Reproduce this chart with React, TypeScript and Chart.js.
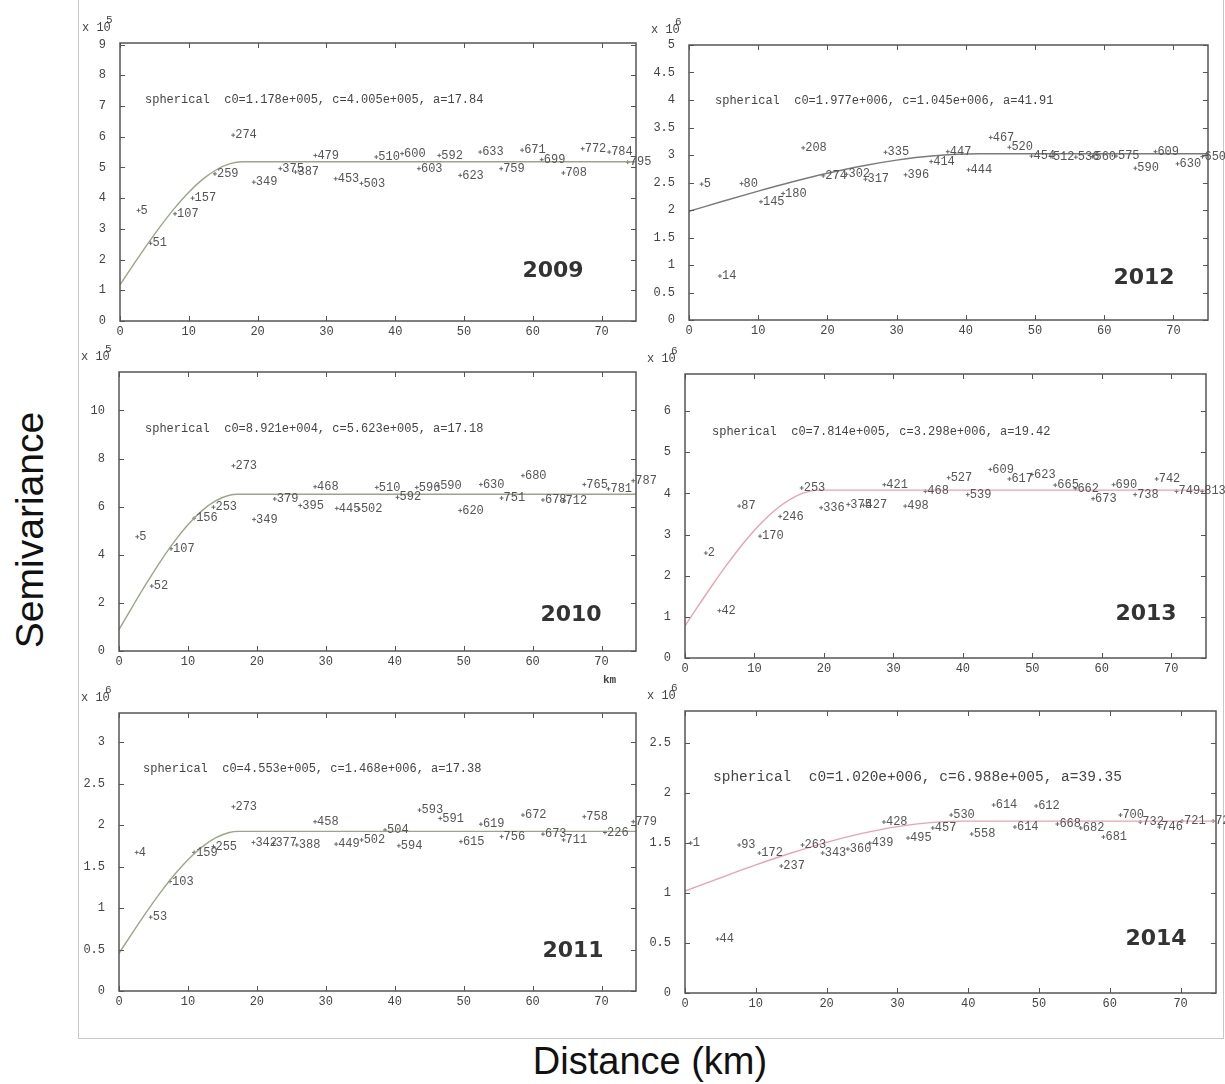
import React, { useEffect, useRef } from "react";
import { Chart, registerables } from "chart.js";

Chart.register(...registerables);

// ---------- data ----------
const distTicks = [0, 10, 20, 30, 40, 50, 60, 70];

const dist2009 = [2.7, 4.45, 8.0, 10.55, 13.8, 16.45, 19.45, 23.3, 25.5, 28.4, 31.35, 35.1, 37.25, 41.0, 43.45, 46.4, 49.45, 52.35, 55.4, 58.45, 61.3, 64.45, 67.25, 71.1, 73.8];
const gamma2009 = [3.6, 2.53, 3.49, 4.0, 4.79, 6.05, 4.52, 4.96, 4.85, 5.39, 4.63, 4.48, 5.34, 5.45, 4.96, 5.39, 4.74, 5.5, 4.96, 5.56, 5.25, 4.82, 5.61, 5.5, 5.17];
const pairs2009 = [5, 51, 107, 157, 259, 274, 349, 375, 387, 479, 453, 503, 510, 600, 603, 592, 623, 633, 759, 671, 699, 708, 772, 784, 795];
const modelX2009 = [0, 2, 4, 6, 8, 10, 12, 14, 16, 17.84, 75];
const modelY2009 = [1.178, 1.849, 2.502, 3.122, 3.691, 4.193, 4.61, 4.924, 5.121, 5.183, 5.183];
const yTicks2009 = [0, 1, 2, 3, 4, 5, 6, 7, 8, 9];

const dist2012 = [1.83, 4.47, 7.6, 10.4, 13.6, 16.5, 19.4, 22.75, 25.5, 28.4, 31.3, 35.0, 37.4, 40.4, 43.6, 46.3, 49.5, 52.3, 55.9, 58.3, 61.7, 64.5, 67.4, 70.6, 74.2];
const gamma2012 = [2.47, 0.8, 2.48, 2.15, 2.3, 3.13, 2.62, 2.65, 2.56, 3.05, 2.64, 2.88, 3.06, 2.73, 3.32, 3.14, 2.98, 2.97, 2.96, 2.97, 2.98, 2.76, 3.06, 2.84, 2.97];
const pairs2012 = [5, 14, 80, 145, 180, 208, 274, 302, 317, 335, 396, 414, 447, 444, 467, 520, 454, 512, 536, 560, 575, 590, 609, 630, 650];
const modelX2012 = [0, 5, 10, 15, 20, 25, 30, 35, 41.91, 75];
const modelY2012 = [1.977, 2.163, 2.344, 2.514, 2.668, 2.801, 2.907, 2.982, 3.022, 3.022];
const yTicks2012 = [0, 0.5, 1, 1.5, 2, 2.5, 3, 3.5, 4, 4.5, 5];

const dist2010 = [2.66, 4.75, 7.55, 10.9, 13.7, 16.6, 19.6, 22.6, 26.3, 28.45, 31.6, 34.8, 37.4, 40.4, 43.2, 46.3, 49.5, 52.5, 55.5, 58.6, 61.5, 64.5, 67.5, 71.0, 74.6];
const gamma2010 = [4.75, 2.7, 4.25, 5.52, 5.98, 7.7, 5.47, 6.32, 6.05, 6.83, 5.93, 5.9, 6.8, 6.39, 6.8, 6.87, 5.84, 6.92, 6.36, 7.29, 6.28, 6.25, 6.92, 6.74, 7.08];
const pairs2010 = [5, 52, 107, 156, 253, 273, 349, 379, 395, 468, 445, 502, 510, 592, 596, 590, 620, 630, 751, 680, 678, 712, 765, 781, 787];
const modelX2010 = [0, 2, 4, 6, 8, 10, 12, 14, 16, 17.18, 75];
const modelY2010 = [0.892, 1.869, 2.82, 3.718, 4.536, 5.247, 5.825, 6.244, 6.476, 6.515, 6.515];
const yTicks2010 = [0, 2, 4, 6, 8, 10];

const dist2013 = [3.0, 4.95, 7.8, 10.8, 13.7, 16.8, 19.6, 23.5, 25.7, 28.7, 31.7, 34.6, 37.95, 40.7, 43.95, 46.7, 49.95, 53.3, 56.2, 58.75, 61.7, 64.8, 67.9, 70.75, 74.45];
const gamma2013 = [2.55, 1.15, 3.69, 2.96, 3.44, 4.13, 3.65, 3.73, 3.71, 4.21, 3.69, 4.05, 4.38, 3.97, 4.58, 4.35, 4.46, 4.2, 4.11, 3.87, 4.21, 3.97, 4.35, 4.05, 4.05];
const pairs2013 = [2, 42, 87, 170, 246, 253, 336, 375, 427, 421, 498, 468, 527, 539, 609, 617, 623, 665, 662, 673, 690, 738, 742, 749, 813];
const modelX2013 = [0, 2, 4, 6, 8, 10, 12, 14, 16, 18, 19.42, 75];
const modelY2013 = [0.781, 1.289, 1.786, 2.261, 2.704, 3.103, 3.449, 3.73, 3.935, 4.053, 4.079, 4.079];
const yTicks2013 = [0, 1, 2, 3, 4, 5, 6];

const dist2011 = [2.57, 4.6, 7.4, 10.9, 13.7, 16.6, 19.5, 22.4, 25.8, 28.45, 31.5, 35.2, 38.6, 40.6, 43.6, 46.6, 49.6, 52.5, 55.5, 58.6, 61.5, 64.5, 67.5, 70.5, 74.6];
const gamma2011 = [1.67, 0.89, 1.32, 1.67, 1.74, 2.22, 1.79, 1.78, 1.76, 2.04, 1.77, 1.82, 1.94, 1.75, 2.18, 2.08, 1.8, 2.01, 1.86, 2.12, 1.89, 1.82, 2.1, 1.91, 2.04];
const pairs2011 = [4, 53, 103, 159, 255, 273, 342, 377, 388, 458, 449, 502, 504, 594, 593, 591, 615, 619, 756, 672, 673, 711, 758, 226, 779];
const modelX2011 = [0, 2, 4, 6, 8, 10, 12, 14, 16, 17.38, 75];
const modelY2011 = [0.455, 0.707, 0.953, 1.185, 1.397, 1.582, 1.734, 1.845, 1.91, 1.923, 1.923];
const yTicks2011 = [0, 0.5, 1, 1.5, 2, 2.5, 3];

const dist2014 = [0.8, 4.6, 7.65, 10.5, 13.6, 16.6, 19.45, 23.0, 26.1, 28.1, 31.5, 35.0, 37.6, 40.5, 43.6, 46.6, 49.6, 52.6, 55.9, 59.1, 61.5, 64.3, 67.0, 70.2, 74.6];
const gamma2014 = [1.5, 0.54, 1.48, 1.4, 1.27, 1.48, 1.4, 1.44, 1.5, 1.71, 1.55, 1.65, 1.78, 1.59, 1.88, 1.66, 1.87, 1.69, 1.65, 1.56, 1.78, 1.71, 1.66, 1.72, 1.72];
const pairs2014 = [1, 44, 93, 172, 237, 263, 343, 360, 439, 428, 495, 457, 530, 558, 614, 614, 612, 668, 682, 681, 700, 732, 746, 721, 728];
const modelX2014 = [0, 5, 10, 15, 20, 25, 30, 35, 39.35, 75];
const modelY2014 = [1.02, 1.152, 1.281, 1.4, 1.507, 1.596, 1.664, 1.706, 1.719, 1.719];
const yTicks2014 = [0, 0.5, 1, 1.5, 2, 2.5];

// ---------- panel layout / style ----------
type Panel = {
  year: string; note: string; exp: string;
  dist: number[]; gamma: number[]; pairs: number[]; mx: number[]; my: number[];
  yTicks: number[]; yMax: number;
  L: number; T: number; R: number; B: number;
  color: string; noteFont: number; noteDx: number; noteDy: number;
  yearDx: number; yearDy: number;
};

const panels: Panel[] = [
  { year: "2009", note: "spherical  c0=1.178e+005, c=4.005e+005, a=17.84", exp: "5",
    dist: dist2009, gamma: gamma2009, pairs: pairs2009, mx: modelX2009, my: modelY2009,
    yTicks: yTicks2009, yMax: 9.05, L: 120, T: 43, R: 636, B: 320.5,
    color: "#9aa688", noteFont: 12, noteDx: 25, noteDy: 57, yearDx: -83, yearDy: -50 },
  { year: "2012", note: "spherical  c0=1.977e+006, c=1.045e+006, a=41.91", exp: "6",
    dist: dist2012, gamma: gamma2012, pairs: pairs2012, mx: modelX2012, my: modelY2012,
    yTicks: yTicks2012, yMax: 5, L: 689, T: 45, R: 1208, B: 320,
    color: "#7a7a7a", noteFont: 12, noteDx: 26, noteDy: 56, yearDx: -64, yearDy: -42 },
  { year: "2010", note: "spherical  c0=8.921e+004, c=5.623e+005, a=17.18", exp: "5",
    dist: dist2010, gamma: gamma2010, pairs: pairs2010, mx: modelX2010, my: modelY2010,
    yTicks: yTicks2010, yMax: 11.6, L: 119, T: 372, R: 636, B: 651,
    color: "#9aa688", noteFont: 12, noteDx: 26, noteDy: 57, yearDx: -65, yearDy: -36 },
  { year: "2013", note: "spherical  c0=7.814e+005, c=3.298e+006, a=19.42", exp: "6",
    dist: dist2013, gamma: gamma2013, pairs: pairs2013, mx: modelX2013, my: modelY2013,
    yTicks: yTicks2013, yMax: 6.9, L: 685, T: 374, R: 1206, B: 658,
    color: "#e8a3b0", noteFont: 12, noteDx: 27, noteDy: 58, yearDx: -60, yearDy: -44 },
  { year: "2011", note: "spherical  c0=4.553e+005, c=1.468e+006, a=17.38", exp: "6",
    dist: dist2011, gamma: gamma2011, pairs: pairs2011, mx: modelX2011, my: modelY2011,
    yTicks: yTicks2011, yMax: 3.35, L: 119, T: 713, R: 636, B: 990.5,
    color: "#9aa688", noteFont: 12, noteDx: 24, noteDy: 56, yearDx: -63, yearDy: -40 },
  { year: "2014", note: "spherical  c0=1.020e+006, c=6.988e+005, a=39.35", exp: "6",
    dist: dist2014, gamma: gamma2014, pairs: pairs2014, mx: modelX2014, my: modelY2014,
    yTicks: yTicks2014, yMax: 2.82, L: 685, T: 711, R: 1216, B: 993,
    color: "#e8a3b0", noteFont: 14.5, noteDx: 28, noteDy: 66, yearDx: -60, yearDy: -54 },
];

const PAD_L = 45; // y-axis width
const PAD_T = 30;
const PAD_R = 30;
const PAD_B = 30; // x-axis height
const MONO = '"Liberation Mono", "DejaVu Sans Mono", monospace';

function PanelChart({ p }: { p: Panel }) {
  const ref = useRef<HTMLCanvasElement | null>(null);
  const width = Math.round(p.R - p.L + PAD_L + PAD_R);
  const height = Math.round(p.B - p.T + PAD_T + PAD_B);

  useEffect(() => {
    if (!ref.current) return;
    const decor = {
      id: "panelDecor",
      afterDatasetsDraw(chart: any) {
        const { ctx, chartArea: a, scales } = chart;
        const x = scales.x, y = scales.y;
        ctx.save();
        ctx.strokeStyle = "#555";
        ctx.lineWidth = 1.5;
        ctx.strokeRect(a.left, a.top, a.right - a.left, a.bottom - a.top);
        ctx.lineWidth = 1;
        ctx.beginPath();
        x.ticks.forEach((t: any) => {
          const px = Math.round(x.getPixelForValue(t.value)) + 0.5;
          ctx.moveTo(px, a.bottom); ctx.lineTo(px, a.bottom - 5);
          ctx.moveTo(px, a.top); ctx.lineTo(px, a.top + 5);
        });
        y.ticks.forEach((t: any) => {
          const py = Math.round(y.getPixelForValue(t.value)) + 0.5;
          ctx.moveTo(a.left, py); ctx.lineTo(a.left + 5, py);
          ctx.moveTo(a.right, py); ctx.lineTo(a.right - 5, py);
        });
        ctx.stroke();

        // point labels (number of pairs)
        const meta = chart.getDatasetMeta(1);
        ctx.font = `12px ${MONO}`;
        ctx.fillStyle = "#555";
        ctx.textAlign = "left";
        ctx.textBaseline = "middle";
        meta.data.forEach((el: any, i: number) => {
          ctx.fillText(String(p.pairs[i]), el.x + 2, el.y);
        });

        // model note
        ctx.font = `${p.noteFont}px ${MONO}`;
        ctx.fillStyle = "#444";
        ctx.fillText(p.note, a.left + p.noteDx, a.top + p.noteDy);

        // year
        ctx.font = 'bold 22px "DejaVu Sans", Verdana, sans-serif';
        ctx.fillStyle = "#333";
        ctx.textAlign = "center";
        ctx.fillText(p.year, a.right + p.yearDx, a.bottom + p.yearDy);

        // exponent
        ctx.textAlign = "left";
        ctx.font = `12px ${MONO}`;
        ctx.fillStyle = "#444";
        ctx.fillText("x 10", a.left - 38, a.top - 15);
        ctx.font = `11px ${MONO}`;
        ctx.fillText(p.exp, a.left - 14, a.top - 23);
        ctx.restore();
      },
    };

    const tickFont = { family: MONO, size: 12 };
    const chart = new Chart(ref.current, {
      type: "scatter",
      data: {
        datasets: [
          {
            type: "line",
            data: p.mx.map((v, i) => ({ x: v, y: p.my[i] })),
            showLine: true,
            borderColor: p.color,
            borderWidth: 1.4,
            pointRadius: 0,
            cubicInterpolationMode: "monotone",
            fill: false,
          } as any,
          {
            data: p.dist.map((v, i) => ({ x: v, y: p.gamma[i] })),
            pointStyle: "cross",
            pointRadius: 2,
            borderColor: "#666",
            backgroundColor: "#666",
            borderWidth: 1,
            clip: false,
          } as any,
        ],
      },
      options: {
        responsive: false,
        animation: false,
        devicePixelRatio: 1,
        layout: { padding: { left: 0, top: PAD_T, right: PAD_R, bottom: 0 } },
        plugins: { legend: { display: false }, tooltip: { enabled: false } },
        scales: {
          x: {
            type: "linear",
            min: 0,
            max: 75,
            afterBuildTicks: (s: any) => { s.ticks = distTicks.map((v) => ({ value: v })); },
            afterFit: (s: any) => { s.height = PAD_B; },
            grid: { display: false, drawTicks: false },
            border: { display: false },
            ticks: { font: tickFont, color: "#444", padding: 4, maxRotation: 0, autoSkip: false },
          },
          y: {
            type: "linear",
            min: 0,
            max: p.yMax,
            afterBuildTicks: (s: any) => { s.ticks = p.yTicks.map((v) => ({ value: v })); },
            afterFit: (s: any) => { s.width = PAD_L; },
            grid: { display: false, drawTicks: false },
            border: { display: false },
            ticks: { font: tickFont, color: "#444", padding: 14, autoSkip: false, callback: (v: any) => String(v) },
          },
        },
      } as any,
      plugins: [decor],
    });
    return () => chart.destroy();
  }, [p]);

  return (
    <canvas
      ref={ref}
      width={width}
      height={height}
      style={{ position: "absolute", left: p.L - PAD_L, top: p.T - PAD_T, width, height }}
    />
  );
}

export default function App() {
  return (
    <div style={{ position: "absolute", left: 0, top: 0, width: 1225, height: 1084, background: "#fff", overflow: "hidden" }}>
      <div style={{ position: "absolute", left: 78, top: -2, width: 1144, height: 1040, borderLeft: "1px solid #c8c8c8", borderRight: "1px solid #c8c8c8", borderBottom: "1px solid #c8c8c8" }} />
      {panels.map((p) => (
        <PanelChart key={p.year} p={p} />
      ))}
      <div style={{ position: "absolute", left: 603, top: 674, font: 'bold 11px "Liberation Mono", monospace', color: "#444" }}>km</div>
      <div
        style={{
          position: "absolute", left: 30, top: 530, transform: "translate(-50%, -50%) rotate(-90deg)",
          font: '39px "Liberation Sans", Arial, sans-serif', color: "#111", whiteSpace: "nowrap",
        }}
      >
        Semivariance
      </div>
      <div
        style={{
          position: "absolute", left: 650, top: 1061, transform: "translate(-50%, -50%)",
          font: '38px "Liberation Sans", Arial, sans-serif', color: "#111", whiteSpace: "nowrap",
        }}
      >
        Distance (km)
      </div>
    </div>
  );
}
